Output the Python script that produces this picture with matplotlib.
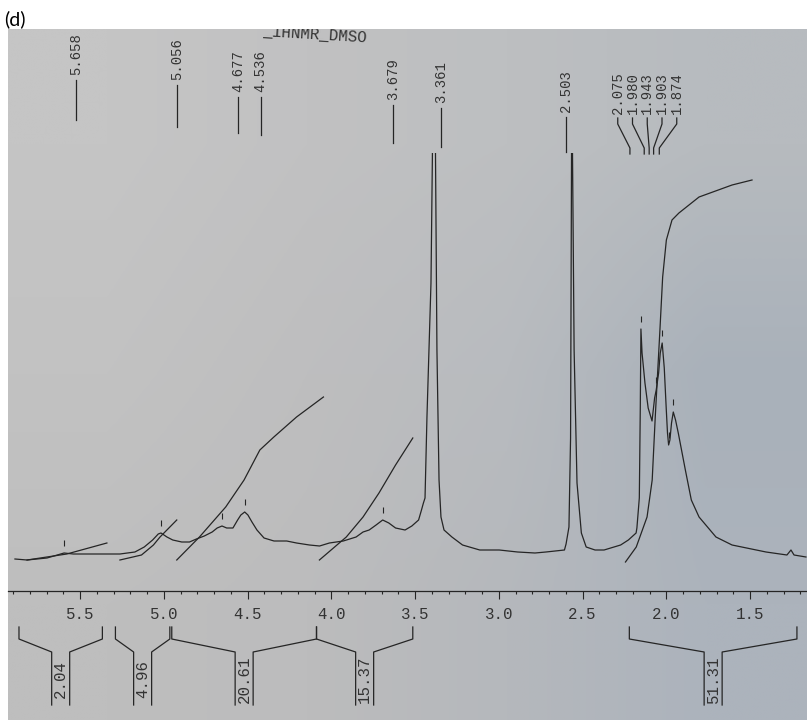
import numpy as np
import matplotlib
matplotlib.use("Agg")
import matplotlib.pyplot as plt
import matplotlib.transforms as mtransforms
from matplotlib.ticker import MultipleLocator, FormatStrFormatter

W, H = 807, 720

# 1H NMR trace, ppm vs. intensity (baseline = 0)
spec_ppm = [5.963, 5.888, 5.764, 5.700, 5.658, 5.600, 5.508, 5.311, 5.218, 5.160,
            5.108, 5.073, 5.056, 5.019, 4.983, 4.927, 4.879, 4.836, 4.787, 4.738,
            4.707, 4.677, 4.648, 4.609, 4.580, 4.560, 4.536, 4.516, 4.491, 4.460,
            4.416, 4.354, 4.275, 4.214, 4.134, 4.071, 4.010, 3.924, 3.844, 3.801,
            3.763, 3.720, 3.679, 3.641, 3.599, 3.540, 3.498, 3.456, 3.438, 3.426,
            3.416, 3.404, 3.379, 3.370, 3.361, 3.351, 3.342, 3.329, 3.317, 3.298,
            3.249, 3.183, 3.076, 2.955, 2.841, 2.733, 2.665, 2.550, 2.540, 2.522,
            2.512, 2.506, 2.503, 2.500, 2.490, 2.472, 2.445, 2.415, 2.360, 2.304,
            2.201, 2.153, 2.105, 2.100, 2.085, 2.079, 2.075, 2.068, 2.050, 2.030,
            2.006, 1.990, 1.980, 1.965, 1.955, 1.943, 1.930, 1.918, 1.910, 1.903,
            1.895, 1.885, 1.874, 1.860, 1.843, 1.799, 1.762, 1.714, 1.609, 1.509,
            1.298, 1.168, 1.143, 1.124, 1.050]
spec_int = [-1, -2, 0, 3, 5, 4, 4, 4, 6, 11,
            18, 24, 25, 21, 18, 16, 16, 19, 22, 26,
            30, 32, 30, 30, 38, 43, 46, 43, 36, 28,
            20, 17, 17, 15, 13, 12, 15, 17, 21, 26,
            28, 33, 38, 35, 30, 28, 32, 38, 48, 55,
            60, 141, 275, 405, 470, 405, 208, 78, 41, 28,
            21, 13, 8, 8, 6, 5, 6, 8, 14, 31,
            120, 405, 460, 405, 208, 75, 25, 11, 8, 8,
            13, 18, 25, 30, 60, 150, 229, 205, 175, 150,
            137, 160, 168, 185, 205, 215, 190, 150, 125, 113,
            118, 135, 146, 138, 125, 88, 58, 41, 21, 13,
            6, 3, 8, 3, 1]

# integral traces
int1_ppm = [5.888, 5.641, 5.392]
int1_val = [-2, 4, 15]
int2_ppm = [5.311, 5.177, 5.103, 5.062, 4.958]
int2_val = [-2, 3, 13, 21, 38]
int3_ppm = [4.958, 4.817, 4.654, 4.540, 4.442, 4.355, 4.214, 4.047]
int3_val = [-2, 21, 51, 78, 108, 121, 141, 161]
int4_ppm = [4.072, 3.905, 3.801, 3.702, 3.599, 3.492]
int4_val = [-2, 21, 41, 65, 93, 120]
int5_ppm = [2.171, 2.104, 2.037, 2.005, 1.986, 1.958, 1.940, 1.917, 1.882, 1.839,
            1.714, 1.509, 1.385]
int5_val = [-4, 11, 41, 78, 141, 225, 281, 318, 338, 345, 361, 373, 378]

# integration regions and their values
int_start = [5.938, 5.339, 4.989, 4.090, 2.147]
int_end = [5.420, 5.001, 4.090, 3.492, 1.106]
int_values = [2.04, 4.96, 20.61, 15.37, 51.31]

# picked peaks
peak_ppm = [5.658, 5.056, 4.677, 4.536, 3.679, 3.361, 2.503,
            2.075, 1.980, 1.943, 1.903, 1.874]

ruler_ticks = [5.5, 5.0, 4.5, 4.0, 3.5, 3.0, 2.5, 2.0, 1.5]

ink = "#252525"
txt = "#333333"
mono = "Liberation Mono"

fig = plt.figure(figsize=(W / 100, H / 100), dpi=100, facecolor="white")

# sheet of paper under the trace
bg = fig.add_axes([8 / W, 0, 1 - 8 / W, (H - 29) / H])
paper = np.array([
    [[197, 197, 197], [193, 193, 194], [189, 191, 193], [183, 187, 191]],
    [[194, 194, 194], [190, 190, 191], [184, 187, 191], [169, 177, 186]],
    [[190, 190, 190], [188, 188, 189], [181, 184, 188], [172, 179, 188]],
]) / 255
bg.imshow(paper, aspect="auto", interpolation="bilinear", extent=(0, 1, 0, 1))
bg.set_xlim(0, 1)
bg.set_ylim(0, 1)
bg.axis("off")
bg.text((262 - 8) / 799, (H - 35.5) / 691, "_1HNMR_DMSO", fontsize=11.3,
        family=mono, color=txt, rotation=-3.5, rotation_mode="anchor",
        va="baseline", ha="left", clip_on=True)

fig.text(4 / W, 1 - 25 / H, "(d)", fontsize=14, family="Lato", va="baseline")

# spectrum
ax = fig.add_axes([0, 0, 1, (H - 153) / H])
ax.set_xlim(975 / 161, (975 - W) / 161)
ax.set_ylim(-162, 405)
ax.axis("off")
ax.plot(spec_ppm, spec_int, color=ink, lw=0.9)
for xs, ys in [(int1_ppm, int1_val), (int2_ppm, int2_val), (int3_ppm, int3_val),
               (int4_ppm, int4_val), (int5_ppm, int5_val)]:
    ax.plot(xs, ys, color=ink, lw=0.9)

# small pick marks above each peak
tops = np.interp(peak_ppm, spec_ppm[::-1], spec_int[::-1])
ax.plot(peak_ppm, tops + 10, ls="none", marker="|", ms=5, mew=0.8, color=ink)

# integral brackets with their values
hw = 9 / 161
for a, b, val in zip(int_start, int_end, int_values):
    c = (a + b) / 2
    ax.plot([a, a, c + hw, c + hw], [-69, -81, -94, -147], color=ink, lw=0.9)
    ax.plot([b, b, c - hw, c - hw], [-69, -81, -94, -147], color=ink, lw=0.9)
    ax.text(c, -121, f"{val:.2f}", rotation=90, ha="center", va="center",
            family=mono, fontsize=11.3, color=txt)

# chemical shift ruler
rax = fig.add_axes([8 / W, (H - 591) / H, 1 - 8 / W, 1 / H])
rax.set_xlim(5.930, 1.160)
rax.set_xticks(ruler_ticks)
rax.xaxis.set_major_formatter(FormatStrFormatter("%.1f"))
rax.xaxis.set_minor_locator(MultipleLocator(0.1))
rax.set_yticks([])
rax.patch.set_visible(False)
for side in ["top", "left", "right"]:
    rax.spines[side].set_visible(False)
rax.spines["bottom"].set_color(ink)
rax.spines["bottom"].set_linewidth(0.9)
rax.tick_params(which="major", length=6, width=0.8, pad=5.5, colors=ink,
                labelcolor=txt, labelsize=11.3, labelfontfamily=mono)
rax.tick_params(which="minor", length=2.5, width=0.8, colors=ink)

# peak labels at the top of the sheet
px_tr = mtransforms.Affine2D().scale(1, -1).translate(0, H)


def xpx(v):
    return ax.transData.transform((v, 0))[0]


single_shift = [12, 16, 16, 16, 10, 7, -6]
single_top = [80, 85, 97, 97, 105, 108, 117]
single_bot = [120, 127, 133, 135, 143, 147, 152]
for v, dx, yt, yb in zip(peak_ppm[:7], single_shift, single_top, single_bot):
    x = xpx(v) + dx
    ax.plot([x, x], [yt, yb], transform=px_tr, clip_on=False, color=ink, lw=0.9)
    ax.text(x, yt - 5, f"{v:.3f}", transform=px_tr, rotation=90, ha="center",
            va="bottom", family=mono, fontsize=10, color=txt)

group = peak_ppm[7:]
group_shift = [-11, -12, -13, -15, -14]
xb = [xpx(v) + dx for v, dx in zip(group, group_shift)]
xc = np.mean(xb)
for i, (v, b) in enumerate(zip(group, xb)):
    t = xc + (i - 2) * 14.75
    ax.plot([t, t, b, b], [118, 124, 148, 154], transform=px_tr, clip_on=False,
            color=ink, lw=0.9)
    ax.text(t, 114, f"{v:.3f}", transform=px_tr, rotation=90, ha="center",
            va="bottom", family=mono, fontsize=10, color=txt)

fig.savefig("out.png", dpi=100)
